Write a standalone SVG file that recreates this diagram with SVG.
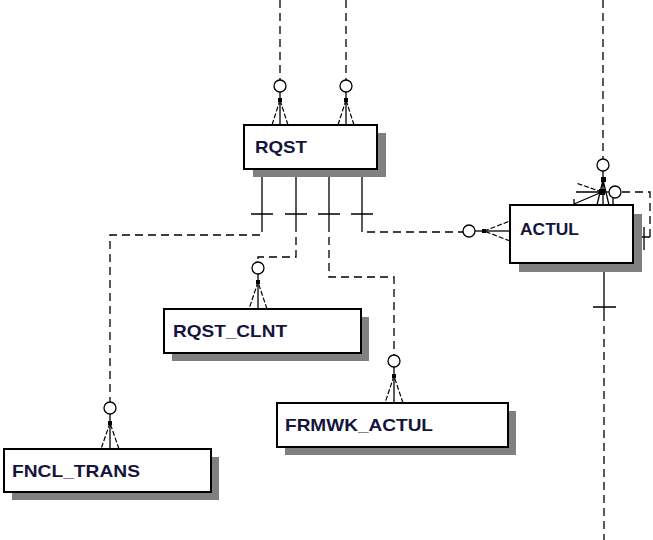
<svg xmlns="http://www.w3.org/2000/svg" width="653" height="540" viewBox="0 0 653 540">
<style>
.shadow{fill:#808080;stroke:none}
.box{fill:#fff;stroke:#000;stroke-width:2}
.lbl{font-family:"Liberation Sans",Arial,sans-serif;font-weight:bold;font-size:17px;fill:#14143c}
.dash{fill:none;stroke:#000;stroke-width:1.3;stroke-dasharray:8,5}
.solid{fill:none;stroke:#000;stroke-width:1.3}
.foot{fill:none;stroke:#000;stroke-width:1.2;stroke-dasharray:5,2}
.circ{fill:#fff;stroke:#000;stroke-width:1.3}
.sq{fill:#000}
</style>
<rect width="653" height="540" fill="#fff"/>
<g id="connectors">
  <path class="dash" d="M280,0 V80"/>
  <path class="dash" d="M346,0 V80"/>
  <path class="solid" d="M262,169 V224 M296,169 V224 M329,169 V224 M362,169 V224"/>
  <path class="solid" d="M251,214 H273 M285,214 H307 M318,214 H340 M351,214 H373"/>
  <path class="dash" d="M262,224 V235 H110 V402"/>
  <path class="dash" d="M296,224 V257 H258 V262"/>
  <path class="dash" d="M329,224 V277 H394 V355"/>
  <path class="dash" d="M362,224 V232 H463"/>
  <path class="dash" d="M603,0 V159"/>
  <path class="solid" d="M604,263 V313 M593,307 H616"/>
  <path class="dash" d="M604,313 V540"/>
  <path class="solid" d="M633,237 H650 M644,227 V250"/>
  <path class="dash" d="M650,237 V192 H621"/>

  <circle class="circ" cx="280" cy="86" r="6"/>
  <path class="solid" d="M280,92 V100"/>
  <rect class="sq" x="278" y="98" width="4" height="4"/>
  <path class="foot" d="M280,100 L272,125 M288,125 L280,100"/>
  <path class="solid" d="M280,100 V125"/>

  <circle class="circ" cx="346" cy="86" r="6"/>
  <path class="solid" d="M346,92 V100"/>
  <rect class="sq" x="344" y="98" width="4" height="4"/>
  <path class="foot" d="M346,100 L338,125 M354,125 L346,100"/>
  <path class="solid" d="M346,100 V125"/>

  <circle class="circ" cx="258" cy="268" r="6"/>
  <path class="solid" d="M258,274 V282"/>
  <rect class="sq" x="256" y="280" width="4" height="4"/>
  <path class="foot" d="M258,282 L249,309 M267,309 L258,282"/>
  <path class="solid" d="M258,282 V309"/>

  <circle class="circ" cx="394" cy="361" r="6"/>
  <path class="solid" d="M394,367 V376"/>
  <rect class="sq" x="392" y="374" width="4" height="4"/>
  <path class="foot" d="M394,376 L385,403 M403,403 L394,376"/>
  <path class="solid" d="M394,376 V403"/>

  <circle class="circ" cx="110" cy="408" r="6"/>
  <path class="solid" d="M110,414 V423"/>
  <rect class="sq" x="108" y="421" width="4" height="4"/>
  <path class="foot" d="M110,423 L101,449 M119,449 L110,423"/>
  <path class="solid" d="M110,423 V449"/>

  <circle class="circ" cx="469" cy="231" r="6"/>
  <path class="solid" d="M475,231 H484"/>
  <rect class="sq" x="482" y="229" width="4" height="4"/>
  <path class="foot" d="M484,231 L510,221 M510,241 L484,231"/>
  <path class="solid" d="M484,231 H510"/>

  <circle class="circ" cx="603" cy="165" r="6"/>
  <path class="solid" d="M603,171 V180"/>
  <rect class="sq" x="601" y="177" width="5" height="5"/>
  <path class="solid" d="M603,180 L597,205 M603,180 V205 M603,180 L609,205 M613,192 V205"/>

  <circle class="circ" cx="615" cy="192" r="6"/>
  <path class="solid" d="M609,192 H603"/>
  <rect class="sq" x="599" y="189" width="6" height="6"/>
  <path class="foot" d="M602,192 L576,183"/>
  <path class="solid" d="M602,192 L576,192 M602,192 L574,204 M574,199 V205"/>
</g>
<g id="RQST">
  <rect class="shadow" x="253" y="133" width="133" height="44"/>
  <rect class="box" x="244" y="125" width="133" height="44"/>
  <text class="lbl" x="255" y="153" textLength="52" lengthAdjust="spacingAndGlyphs">RQST</text>
</g>
<g id="ACTUL">
  <rect class="shadow" x="519" y="214" width="123" height="58"/>
  <rect class="box" x="510" y="205" width="123" height="58"/>
  <text class="lbl" x="520" y="235" textLength="59" lengthAdjust="spacingAndGlyphs">ACTUL</text>
</g>
<g id="RQST_CLNT">
  <rect class="shadow" x="172" y="317" width="197" height="44"/>
  <rect class="box" x="164" y="309" width="197" height="44"/>
  <text class="lbl" x="173" y="337" textLength="114" lengthAdjust="spacingAndGlyphs">RQST_CLNT</text>
</g>
<g id="FRMWK_ACTUL">
  <rect class="shadow" x="285" y="411" width="231" height="44"/>
  <rect class="box" x="277" y="403" width="231" height="44"/>
  <text class="lbl" x="285" y="431" textLength="148" lengthAdjust="spacingAndGlyphs">FRMWK_ACTUL</text>
</g>
<g id="FNCL_TRANS">
  <rect class="shadow" x="12" y="457" width="207" height="43"/>
  <rect class="box" x="4" y="449" width="207" height="43"/>
  <text class="lbl" x="12" y="477" textLength="128" lengthAdjust="spacingAndGlyphs">FNCL_TRANS</text>
</g>
</svg>
